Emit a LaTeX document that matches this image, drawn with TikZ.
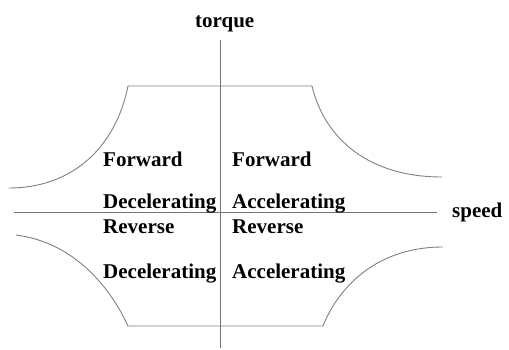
\documentclass[tikz,border=0pt]{standalone}
\usepackage{fontspec}
\setmainfont{Liberation Serif}
\begin{document}
\begin{tikzpicture}[x=1pt,y=-1pt,
  curve/.style={draw=black!50,line width=0.9pt},
  axis/.style={draw=black!55,line width=0.9pt},
  lbl/.style={font=\fontsize{21}{24}\selectfont\bfseries,inner sep=0pt,anchor=base west}]
\useasboundingbox (0,0) rectangle (509,349);
% axes
\coordinate (vt) at (220,40);
\coordinate (vb) at (220,348);
\coordinate (hl) at (14,212);
\coordinate (hr) at (437,212);
\draw[axis] (vt) -- (vb);
\draw[axis] (hl) -- (hr);
% envelope
\coordinate (a1) at (9,188);
\coordinate (a2) at (128,86);
\coordinate (a3) at (312,86);
\coordinate (a4) at (442,177);
\draw[curve] (a1) .. controls (70,188) and (115,150) .. (a2) -- (a3)
  .. controls (325,140) and (370,177) .. (a4);
\coordinate (b1) at (16,235);
\coordinate (b2) at (128,326);
\coordinate (b3) at (323,326);
\coordinate (b4) at (443,247);
\draw[curve] (b1) .. controls (78,243) and (113,293) .. (b2) -- (b3)
  .. controls (335,295) and (370,247) .. (b4);
% labels
\node[lbl] (tq) at (195,27) {torque};
\node[lbl] (sp) at (452,217) {speed};
\node[lbl] (f1) at (103,166) {Forward};
\node[lbl] (d1) at (103,208) {Decelerating};
\node[lbl] (r1) at (103,233) {Reverse};
\node[lbl] (d2) at (103,278) {Decelerating};
\node[lbl] (f2) at (232,166) {Forward};
\node[lbl] (a5) at (232,208) {Accelerating};
\node[lbl] (r2) at (232,233) {Reverse};
\node[lbl] (a6) at (232,278) {Accelerating};
\end{tikzpicture}
\end{document}
